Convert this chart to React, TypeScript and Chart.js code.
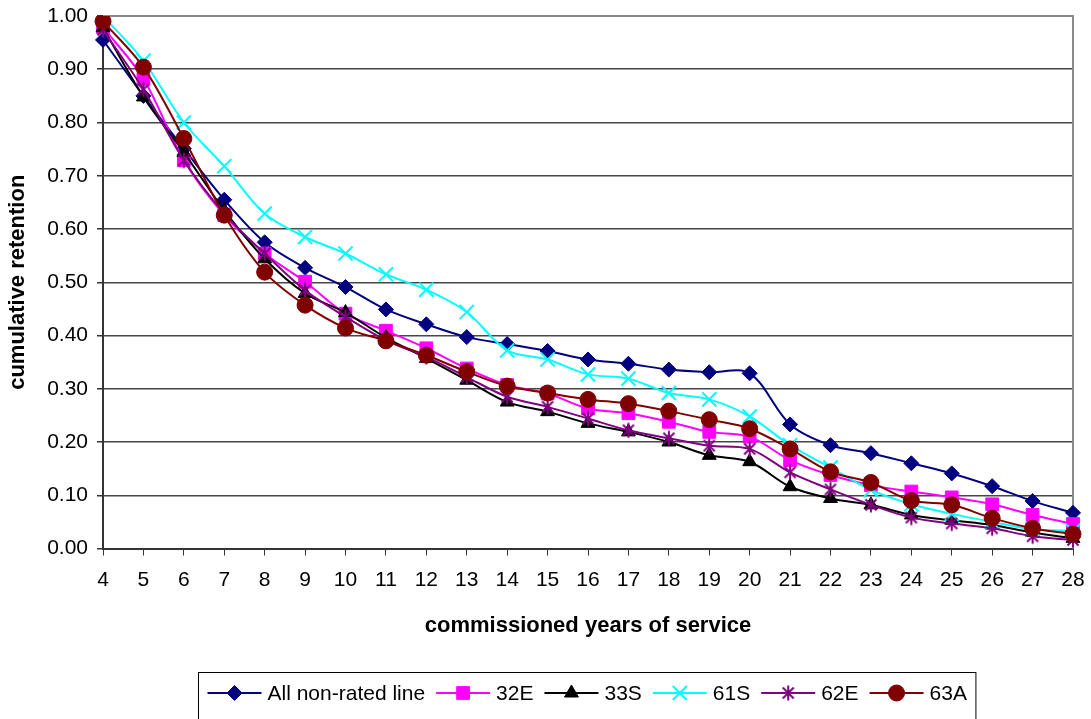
import { useEffect, useRef } from 'react';
import { Chart, registerables } from 'chart.js';
import { drawPoint } from 'chart.js/helpers';

Chart.register(...registerables);

// Commissioned years of service (x axis categories)
const years = ['4', '5', '6', '7', '8', '9', '10', '11', '12', '13', '14', '15', '16', '17', '18', '19', '20', '21', '22', '23', '24', '25', '26', '27', '28'];

// Cumulative retention per community
const allNonRated = [0.955, 0.85, 0.751, 0.655, 0.575, 0.527, 0.491, 0.449, 0.421, 0.397, 0.384, 0.371, 0.355, 0.347, 0.336, 0.331, 0.329, 0.233, 0.194, 0.179, 0.16, 0.141, 0.117, 0.089, 0.067];
const r32E = [0.979, 0.882, 0.729, 0.626, 0.554, 0.501, 0.441, 0.409, 0.376, 0.338, 0.307, 0.291, 0.263, 0.254, 0.238, 0.219, 0.21, 0.166, 0.138, 0.119, 0.107, 0.096, 0.083, 0.063, 0.046];
const r33S = [0.978, 0.848, 0.744, 0.635, 0.544, 0.479, 0.443, 0.396, 0.357, 0.316, 0.275, 0.257, 0.235, 0.219, 0.2, 0.175, 0.163, 0.116, 0.094, 0.082, 0.063, 0.053, 0.044, 0.03, 0.019];
const r61S = [1.0, 0.916, 0.8, 0.718, 0.629, 0.585, 0.554, 0.515, 0.486, 0.444, 0.372, 0.355, 0.327, 0.319, 0.292, 0.28, 0.248, 0.194, 0.152, 0.11, 0.083, 0.065, 0.05, 0.036, 0.033];
const r62E = [0.974, 0.862, 0.729, 0.629, 0.554, 0.485, 0.435, 0.391, 0.36, 0.322, 0.285, 0.266, 0.244, 0.222, 0.207, 0.193, 0.187, 0.143, 0.111, 0.082, 0.058, 0.047, 0.038, 0.023, 0.016];
const r63A = [0.99, 0.904, 0.77, 0.626, 0.519, 0.457, 0.414, 0.39, 0.363, 0.332, 0.305, 0.292, 0.28, 0.272, 0.258, 0.242, 0.225, 0.187, 0.144, 0.124, 0.09, 0.082, 0.057, 0.038, 0.027];

const seriesNames = ['All non-rated line', '32E', '33S', '61S', '62E', '63A'];
const seriesValues = [allNonRated, r32E, r33S, r61S, r62E, r63A];
const seriesColors = ['#000080', '#ff00ff', '#000000', '#00ffff', '#800080', '#800000'];

const FONT = '"Liberation Sans", Arial, sans-serif';

// Asterisk marker: vertical stroke plus an X
function asteriskMarker(color: string) {
  const c = document.createElement('canvas');
  c.width = 18;
  c.height = 18;
  const g = c.getContext('2d')!;
  g.strokeStyle = color;
  g.lineWidth = 2;
  g.beginPath();
  g.moveTo(9, 1.5);
  g.lineTo(9, 16.5);
  g.moveTo(3.5, 3.5);
  g.lineTo(14.5, 14.5);
  g.moveTo(14.5, 3.5);
  g.lineTo(3.5, 14.5);
  g.stroke();
  return c;
}

// Plot-area frame on the top and right edges
const plotFrame = {
  id: 'plotFrame',
  beforeDatasetsDraw(chart: any) {
    const { ctx, chartArea } = chart;
    ctx.save();
    ctx.strokeStyle = '#8a8a8a';
    ctx.lineWidth = 2;
    ctx.beginPath();
    ctx.moveTo(chartArea.left, chartArea.top);
    ctx.lineTo(chartArea.right, chartArea.top);
    ctx.lineTo(chartArea.right, chartArea.bottom);
    ctx.stroke();
    ctx.restore();
  },
};

// Boxed legend with a line segment and marker for each series
const boxedLegend = {
  id: 'boxedLegend',
  afterDraw(chart: any) {
    const { ctx, chartArea } = chart;
    const lineLen = 54;
    const gapText = 6;
    const gapItem = 11;
    const pad = 9;
    ctx.save();
    ctx.font = `21px ${FONT}`;
    const datasets = chart.data.datasets;
    const widths = datasets.map((d: any) => ctx.measureText(d.label).width);
    let total = 0;
    widths.forEach((w: number, i: number) => {
      total += lineLen + gapText + w + (i < widths.length - 1 ? gapItem : 0);
    });
    const boxW = total + pad * 2;
    const cx = (chartArea.left + chartArea.right) / 2 - 1.5;
    const boxL = Math.round(cx - boxW / 2) + 0.5;
    const boxT = 672.5;
    ctx.strokeStyle = '#000';
    ctx.lineWidth = 1;
    ctx.strokeRect(boxL, boxT, boxW, 60);
    const cy = 693;
    let x = boxL + pad;
    datasets.forEach((d: any, i: number) => {
      ctx.strokeStyle = d.borderColor;
      ctx.lineWidth = 2;
      ctx.beginPath();
      ctx.moveTo(x, cy);
      ctx.lineTo(x + lineLen, cy);
      ctx.stroke();
      ctx.fillStyle = d.pointBackgroundColor;
      ctx.strokeStyle = d.pointBorderColor;
      ctx.lineWidth = d.pointBorderWidth;
      drawPoint(ctx, { pointStyle: d.pointStyle, radius: d.pointRadius, rotation: 0, borderWidth: d.pointBorderWidth }, x + lineLen / 2, cy);
      ctx.fillStyle = '#000';
      ctx.textBaseline = 'middle';
      ctx.textAlign = 'left';
      ctx.fillText(d.label, x + lineLen + gapText, cy + 1);
      x += lineLen + gapText + widths[i] + gapItem;
    });
    ctx.restore();
  },
};

export default function App() {
  const canvasRef = useRef<HTMLCanvasElement | null>(null);

  useEffect(() => {
    const canvas = canvasRef.current;
    if (!canvas) return;

    const styles: any[] = [
      { pointStyle: 'rectRot', pointRadius: 7.5, pointBorderWidth: 1 },
      { pointStyle: 'rect', pointRadius: 9, pointBorderWidth: 1 },
      { pointStyle: 'triangle', pointRadius: 8, pointBorderWidth: 1 },
      { pointStyle: 'crossRot', pointRadius: 10, pointBorderWidth: 2 },
      { pointStyle: asteriskMarker(seriesColors[4]), pointRadius: 8, pointBorderWidth: 2 },
      { pointStyle: 'circle', pointRadius: 8, pointBorderWidth: 1 },
    ];

    const datasets = seriesNames.map((name, i) => ({
      label: name,
      data: seriesValues[i],
      borderColor: seriesColors[i],
      backgroundColor: seriesColors[i],
      pointBackgroundColor: seriesColors[i],
      pointBorderColor: seriesColors[i],
      borderWidth: 2,
      tension: 0.33,
      order: seriesNames.length - 1 - i,
      ...styles[i],
    }));

    const chart = new Chart(canvas, {
      type: 'line',
      data: { labels: years, datasets },
      options: {
        animation: false,
        responsive: true,
        maintainAspectRatio: false,
        events: [],
        layout: { padding: { top: 16, right: 18, bottom: 59, left: 0 } },
        plugins: {
          legend: { display: false },
          tooltip: { enabled: false },
        },
        scales: {
          x: {
            type: 'category',
            offset: false,
            afterFit(scale: any) {
              scale.height = 111.5;
              scale.paddingLeft = 0;
              scale.paddingRight = 0;
            },
            grid: {
              display: true,
              drawOnChartArea: false,
              drawTicks: true,
              tickLength: 7,
              tickColor: '#333',
            },
            border: { display: true, color: '#333', width: 2 },
            ticks: {
              autoSkip: false,
              maxRotation: 0,
              padding: 12,
              color: '#000',
              font: { family: FONT, size: 21 },
            },
            title: {
              display: true,
              text: 'commissioned years of service',
              color: '#000',
              font: { family: FONT, size: 22, weight: 'bold' },
              padding: { top: 0, bottom: 21 },
            },
          },
          y: {
            min: 0,
            max: 1,
            afterFit(scale: any) {
              scale.width = 103;
              scale.paddingTop = 0;
              scale.paddingBottom = 0;
            },
            grid: {
              color: (ctx: any) => (ctx.tick && ctx.tick.value === 1 ? '#8a8a8a' : '#474747'),
              lineWidth: 1.5,
              tickLength: 6,
              tickColor: '#333',
            },
            border: { display: true, color: '#333', width: 2 },
            ticks: {
              stepSize: 0.1,
              padding: 9,
              color: '#000',
              font: { family: FONT, size: 21 },
              callback: (v: any) => Number(v).toFixed(2),
            },
            title: {
              display: true,
              text: 'cumulative retention',
              color: '#000',
              font: { family: FONT, size: 22, weight: 'bold' },
              padding: { top: 5, bottom: 0 },
            },
          },
        },
      },
      plugins: [plotFrame, boxedLegend],
    });

    return () => chart.destroy();
  }, []);

  return (
    <div style={{ position: 'fixed', left: 0, top: 0, width: '1091px', height: '719px', background: '#fff' }}>
      <canvas ref={canvasRef} />
    </div>
  );
}
